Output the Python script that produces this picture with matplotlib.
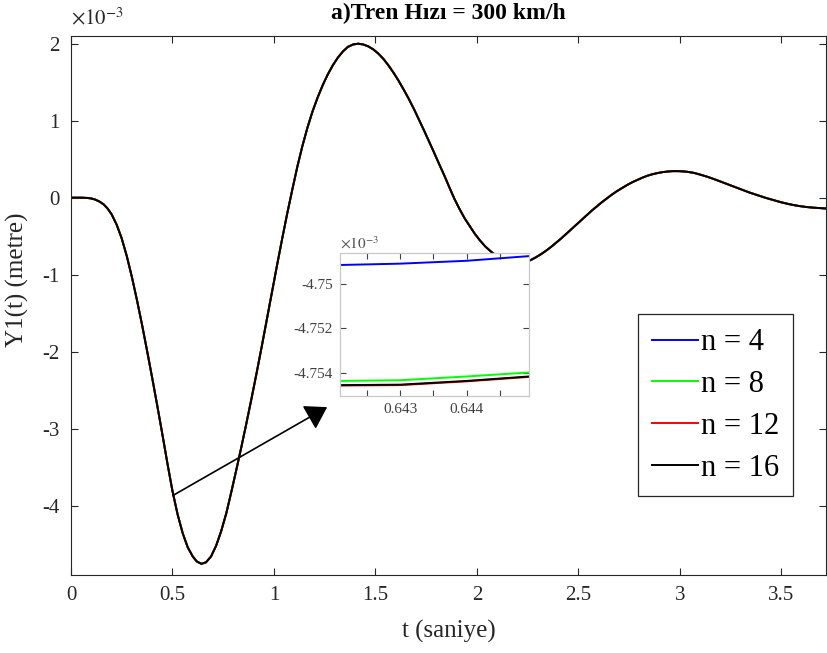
import numpy as np
import matplotlib
matplotlib.use("Agg")
import matplotlib.pyplot as plt
from matplotlib.ticker import FuncFormatter

plt.rcParams['font.family'] = ['Liberation Serif', 'DejaVu Serif']
plt.rcParams['mathtext.fontset'] = 'stix'
plt.rcParams['axes.unicode_minus'] = False

# ana egri (x10^-3 m), n = 4, 8, 12, 16 hepsi ust uste
t_main = [0.000, 0.050, 0.080, 0.100, 0.120, 0.140, 0.160, 0.180, 0.200,
          0.225, 0.250, 0.275, 0.300, 0.325, 0.350, 0.375, 0.400, 0.425,
          0.450, 0.475, 0.500, 0.525, 0.550, 0.575, 0.600, 0.620, 0.643,
          0.665, 0.690, 0.715, 0.740, 0.765, 0.790, 0.815, 0.840, 0.865,
          0.890, 0.915, 0.940, 0.965, 0.990, 1.015, 1.040, 1.065, 1.090,
          1.115, 1.140, 1.165, 1.190, 1.215, 1.240, 1.265, 1.290, 1.315,
          1.340, 1.365, 1.390, 1.415, 1.440, 1.465, 1.490, 1.515, 1.540,
          1.565, 1.590, 1.615, 1.640, 1.665, 1.690, 1.715, 1.740, 1.765,
          1.790, 1.815, 1.840, 1.865, 1.890, 1.915, 1.940, 1.965, 1.990,
          2.015, 2.040, 2.065, 2.090, 2.115, 2.140, 2.165, 2.190, 2.215,
          2.240, 2.265, 2.290, 2.315, 2.340, 2.365, 2.390, 2.415, 2.440,
          2.465, 2.490, 2.515, 2.540, 2.565, 2.590, 2.615, 2.640, 2.665,
          2.690, 2.715, 2.740, 2.765, 2.790, 2.815, 2.840, 2.865, 2.890,
          2.915, 2.940, 2.965, 2.990, 3.015, 3.040, 3.070, 3.100, 3.140,
          3.180, 3.220, 3.260, 3.300, 3.340, 3.380, 3.420, 3.460, 3.500,
          3.540, 3.580, 3.620, 3.660, 3.700, 3.720]
y_main = [0.000, 0.000, -0.003, -0.010, -0.025, -0.050, -0.085, -0.140,
          -0.215, -0.350, -0.530, -0.760, -1.030, -1.330, -1.650, -1.990,
          -2.340, -2.700, -3.070, -3.450, -3.810, -4.110, -4.355, -4.540,
          -4.660, -4.725, -4.755, -4.735, -4.660, -4.520, -4.330, -4.100,
          -3.820, -3.530, -3.230, -2.920, -2.600, -2.270, -1.930, -1.580,
          -1.230, -0.880, -0.540, -0.210, 0.100, 0.400, 0.670, 0.910,
          1.120, 1.300, 1.460, 1.600, 1.720, 1.820, 1.900, 1.960, 1.990,
          2.000, 1.990, 1.965, 1.925, 1.870, 1.800, 1.715, 1.620, 1.515,
          1.400, 1.280, 1.150, 1.010, 0.870, 0.725, 0.580, 0.430, 0.285,
          0.130, -0.020, -0.150, -0.270, -0.370, -0.470, -0.555, -0.630,
          -0.690, -0.745, -0.790, -0.825, -0.846, -0.855, -0.850, -0.835,
          -0.810, -0.775, -0.735, -0.690, -0.640, -0.585, -0.530, -0.470,
          -0.410, -0.350, -0.290, -0.230, -0.170, -0.115, -0.060, -0.010,
          0.040, 0.085, 0.125, 0.165, 0.200, 0.230, 0.260, 0.285, 0.305,
          0.320, 0.332, 0.340, 0.345, 0.345, 0.342, 0.335, 0.322, 0.300,
          0.268, 0.230, 0.190, 0.150, 0.110, 0.070, 0.035, 0.000, -0.030,
          -0.060, -0.085, -0.105, -0.120, -0.130, -0.137, -0.140]

# yakinlastirma (x10^-3 m)
t_zoom = [0.6421, 0.6430, 0.6440, 0.64493]
y_n4 = [-4.74914, -4.74908, -4.74895, -4.74874]
y_n8 = [-4.75436, -4.75433, -4.75416, -4.75398]
y_n12 = [-4.75457, -4.75455, -4.75438, -4.75418]
y_n16 = [-4.75455, -4.75453, -4.75436, -4.75416]

etiketler = ['n = 4', 'n = 8', 'n = 12', 'n = 16']
renkler = ['#0000ff', '#00ff00', '#ff0000', '#000000']
zoom_seriler = [y_n4, y_n8, y_n12, y_n16]

koyu = '#262626'

fig = plt.figure(figsize=(8.28, 6.53), dpi=100)
ax = fig.add_axes([71/828, 1-575/653, 755/828, 539/653])

t = np.array(t_main)
y = np.array(y_main) * 1e-3
for lab, c in zip(etiketler, renkler):
    ax.plot(t, y, color=c, lw=1.4, label=lab)

ax.set_xlim(0, 3.72)
ax.set_ylim(-4.9e-3, 2.1e-3)
ax.set_xticks(np.arange(0, 3.6, 0.5))
ax.set_yticks(np.arange(-4, 3) * 1e-3)
ax.xaxis.set_major_formatter(FuncFormatter(lambda v, p: f'{v:g}'))
ax.yaxis.set_major_formatter(FuncFormatter(lambda v, p: f'{round(v*1e3):d}'))
ax.tick_params(direction='in', length=5, width=0.8, top=True, right=True,
               labelsize=15, colors=koyu, pad=8)
for s in ax.spines.values():
    s.set_color(koyu)
    s.set_linewidth(0.8)

ax.text(0.0, 1.012, r'$\times10^{-3}$', transform=ax.transAxes, fontsize=15,
        color=koyu, ha='left', va='bottom')
ax.set_xlabel('t (saniye)', fontsize=18, color=koyu)
ax.xaxis.set_label_coords(0.5, -0.083)
ax.set_ylabel('Y1(t) (metre)', fontsize=18, color=koyu)
ax.yaxis.set_label_coords(-0.056, 0.547)
fig.text(448/828, 1-13/653, 'a)Tren Hızı = 300 km/h', fontsize=17,
         fontweight='bold', ha='center', va='center', color='k')

leg = ax.legend(loc='center', bbox_to_anchor=(0.854, 0.3145), fontsize=22,
                frameon=True, fancybox=False, handlelength=1.5,
                handletextpad=0.1, labelspacing=0.42, borderpad=0.45)
leg.get_frame().set_edgecolor(koyu)
leg.get_frame().set_linewidth(0.9)
leg.get_frame().set_alpha(1)

# ok
ax.annotate('', xy=(1.262, -2.72e-3), xytext=(0.503, -3.866e-3),
            arrowprops=dict(arrowstyle='-|>,head_width=0.38,head_length=0.6',
                            color='k', lw=1.2, mutation_scale=22,
                            shrinkA=0, shrinkB=0))

# ic eksen
gri = '#c8c8c8'
axi = fig.add_axes([340/828, 1-396/653, 189/828, 143/653])
for ys, lab, c in zip(zoom_seriler, etiketler, renkler):
    axi.plot(t_zoom, ys, color=c, lw=1.4)
axi.set_xlim(0.6421, 0.64493)
axi.set_ylim(-4.75504, -4.7486)
axi.set_xticks([0.6425, 0.643, 0.6435, 0.644, 0.6445])
axi.set_xticklabels(['', '0.643', '', '0.644', ''])
axi.set_yticks([-4.754, -4.752, -4.75])
axi.set_yticklabels(['-4.754', '-4.752', '-4.75'])
axi.tick_params(direction='in', length=4, width=0.8, top=True, right=True,
                labelsize=11, colors='#404040', pad=5)
for s in axi.spines.values():
    s.set_color(gri)
    s.set_linewidth(0.9)
axi.text(0.0, 1.01, r'$\times10^{-3}$', transform=axi.transAxes, fontsize=11,
         color='#505050', ha='left', va='bottom')

fig.savefig('out.png', dpi=100)
